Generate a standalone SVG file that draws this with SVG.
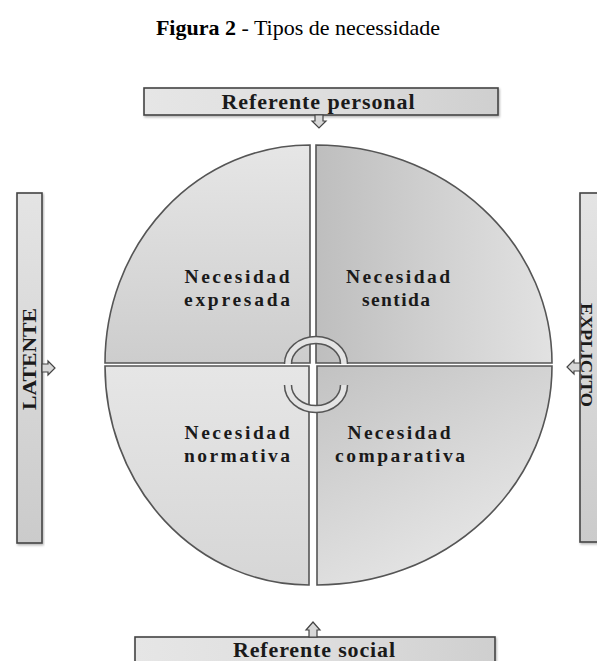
<svg xmlns="http://www.w3.org/2000/svg" width="597" height="661" viewBox="0 0 597 661">
<defs>
<style>
.title{font-family:"Liberation Serif","Times New Roman",serif;font-size:22px;fill:#000}
.lbl{font-family:"Liberation Serif","Times New Roman",serif;font-weight:bold;font-size:19.5px;fill:#1a1a1a;text-anchor:middle}
.bar{font-family:"Liberation Serif","Times New Roman",serif;font-weight:bold;font-size:22px;fill:#1a1a1a;text-anchor:middle}
.barv{font-family:"Liberation Serif","Times New Roman",serif;font-weight:bold;font-size:19px;fill:#1a1a1a;text-anchor:middle}
.q{stroke:#555;stroke-width:1.6}
.band{stroke:#444;stroke-width:1.6}
.ptr{fill:#d8d8d8;stroke:#444;stroke-width:1.2}
.arcO{fill:none;stroke:#555;stroke-width:8.5}
.arcI{fill:none;stroke:#e4e4e4;stroke-width:5.5}
</style>
<linearGradient id="gTL" x1="0" y1="0" x2="0" y2="1"><stop offset="0" stop-color="#e6e6e6"/><stop offset="1" stop-color="#cdcdcd"/></linearGradient>
<linearGradient id="gTR" x1="0" y1="0" x2="1" y2="0"><stop offset="0" stop-color="#bebebe"/><stop offset="1" stop-color="#e2e2e2"/></linearGradient>
<linearGradient id="gBL" x1="0" y1="0" x2="0" y2="1"><stop offset="0" stop-color="#e6e6e6"/><stop offset="1" stop-color="#d6d6d6"/></linearGradient>
<linearGradient id="gBR" x1="0" y1="0" x2="0.6" y2="1"><stop offset="0" stop-color="#c2c2c2"/><stop offset="1" stop-color="#e8e8e8"/></linearGradient>
<linearGradient id="gH" x1="0" y1="0" x2="1" y2="0"><stop offset="0" stop-color="#e6e6e6"/><stop offset="0.5" stop-color="#dedede"/><stop offset="1" stop-color="#cfcfcf"/></linearGradient>
<linearGradient id="gV" x1="0" y1="0" x2="0" y2="1"><stop offset="0" stop-color="#e4e4e4"/><stop offset="1" stop-color="#cbcbcb"/></linearGradient>
<filter id="sh" x="-10%" y="-10%" width="120%" height="130%"><feDropShadow dx="1" dy="1.5" stdDeviation="1.2" flood-color="#000" flood-opacity="0.3"/></filter>
</defs>
<rect width="597" height="661" fill="#fff"/>
<text class="title" x="298" y="35" text-anchor="middle"><tspan font-weight="bold">Figura 2</tspan> - Tipos de necessidade</text>

<g id="quad-expresada">
<path class="q" fill="url(#gTL)" d="M310,363 L105,363 A205,218 0 0 1 310,145 Z"/>
<text class="lbl" x="237" y="283" textLength="105" lengthAdjust="spacing">Necesidad</text>
<text class="lbl" x="237" y="306" textLength="106" lengthAdjust="spacing">expresada</text>
</g>
<g id="quad-sentida">
<path class="q" fill="url(#gTR)" d="M316,145 A236,218 0 0 1 552,363 L316,363 Z"/>
<text class="lbl" x="398" y="283" textLength="104" lengthAdjust="spacing">Necesidad</text>
<text class="lbl" x="396" y="306" textLength="68" lengthAdjust="spacing">sentida</text>
</g>
<g id="quad-normativa">
<path class="q" fill="url(#gBL)" d="M309,366 L309,585 A204,219 0 0 1 105,366 Z"/>
<text class="lbl" x="237" y="439" textLength="105" lengthAdjust="spacing">Necesidad</text>
<text class="lbl" x="237" y="462" textLength="106" lengthAdjust="spacing">normativa</text>
</g>
<g id="quad-comparativa">
<path class="q" fill="url(#gBR)" d="M317,366 L552,366 A235,219 0 0 1 317,585 Z"/>
<text class="lbl" x="399" y="439" textLength="103" lengthAdjust="spacing">Necesidad</text>
<text class="lbl" x="400" y="462" textLength="130" lengthAdjust="spacing">comparativa</text>
</g>

<g id="cycle-arrows">
<path class="arcO" d="M288,364 A28,24 0 0 1 344,364"/>
<path class="arcI" d="M288,364 A28,24 0 0 1 344,364"/>
<path class="arcO" d="M288,385 A28,24 0 0 0 344,385"/>
<path class="arcI" d="M288,385 A28,24 0 0 0 344,385"/>
</g>

<g id="referente-personal">
<rect class="band" fill="url(#gH)" filter="url(#sh)" x="144" y="88" width="354" height="27"/>
<polygon class="ptr" points="315,115 315,121 312,121 319,128 326,121 323,121 323,115"/>
<text class="bar" x="318" y="109" textLength="193" lengthAdjust="spacing">Referente personal</text>
</g>
<g id="latente">
<rect class="band" fill="url(#gV)" filter="url(#sh)" x="17" y="193" width="25" height="350"/>
<polygon class="ptr" points="42,364 48,364 48,361 55,368 48,375 48,372 42,372"/>
<text class="barv" transform="translate(36,359) rotate(-90)" x="0" y="0" textLength="102" lengthAdjust="spacingAndGlyphs">LATENTE</text>
</g>
<g id="explicito">
<rect class="band" fill="url(#gV)" filter="url(#sh)" x="580" y="193" width="25" height="349"/>
<polygon class="ptr" points="580,363 574,363 574,360 567,367 574,374 574,371 580,371"/>
<text class="barv" style="font-size:16px" transform="translate(581,355) rotate(90)" x="0" y="0" textLength="104" lengthAdjust="spacingAndGlyphs">EXPLICITO</text>
</g>
<g id="referente-social">
<rect class="band" fill="url(#gH)" filter="url(#sh)" x="135" y="637" width="360" height="40"/>
<polygon class="ptr" points="309,637 309,630 306,630 313,622 320,630 317,630 317,637"/>
<text class="bar" x="314" y="657" textLength="162" lengthAdjust="spacing">Referente social</text>
</g>
</svg>
